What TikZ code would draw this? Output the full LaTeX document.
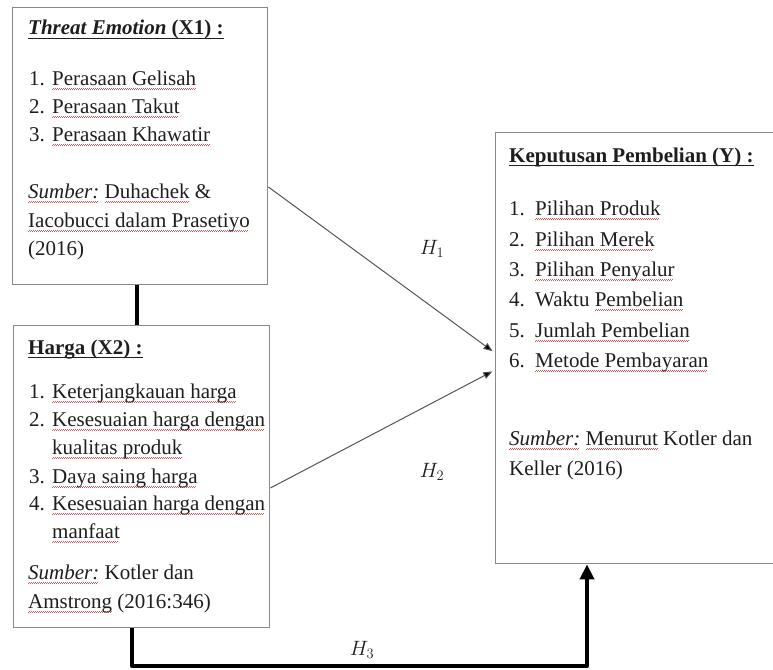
\documentclass[tikz,border=0pt]{standalone}
\usepackage{fontspec}
\setmainfont{Liberation Serif}
\usetikzlibrary{arrows.meta}
\definecolor{boxgray}{HTML}{8A8A8A}
\definecolor{ink}{HTML}{1E1E1E}
\definecolor{arrgray}{HTML}{555555}
\definecolor{wavered}{HTML}{D85A5A}
\newsavebox\mywbox
\newcommand\rw[1]{\sbox\mywbox{#1}\rlap{\color{wavered}\leaders\hbox{\rule[-4.6pt]{1pt}{0.7pt}\rule[-3.9pt]{1pt}{0.7pt}}\hskip\wd\mywbox}\usebox\mywbox}
\newcommand\myul[1]{\sbox\mywbox{#1}\rlap{\color{ink}\rule[-4.2pt]{\wd\mywbox}{1.2pt}}\usebox\mywbox}
\begin{document}
\begin{tikzpicture}[x=1pt,y=-1pt,
  box/.style={draw=boxgray, line width=1.4pt, anchor=north west, inner sep=0pt},
  txt/.style={anchor=base west, inner sep=0pt, font=\fontsize{21}{25}\selectfont, text=ink},
  hlab/.style={inner sep=0pt, font=\fontsize{20}{24}\selectfont, text=ink},
  thinarr/.style={draw=arrgray, line width=1pt, -{Triangle[length=9pt,width=7pt,fill=black]}, shorten >=3pt},
  thickline/.style={draw=black, line width=4.2pt},
  thickarr/.style={draw=black, line width=4.2pt, line join=round, -{Triangle[length=15pt,width=14pt]}}
]
\useasboundingbox (0,0) rectangle (773,669);
\fill[white] (0,0) rectangle (773,669);

% boxes
\node[box, minimum width=255pt, minimum height=277pt] (x1) at (12,7) {};
\node[box, minimum width=256pt, minimum height=302pt] (x2) at (13,325) {};
\node[box, minimum width=320pt, minimum height=431pt] (y) at (495,132) {};

% X1 texts
\node[txt] (x1t) at (28,35) {\myul{\textbf{\textit{Threat Emotion}} \textbf{(X1) :}}};
\node[txt] (x1n1) at (29,85) {1.};
\node[txt] (x1i1) at (52,85) {\rw{Perasaan Gelisah}};
\node[txt] (x1n2) at (29,113) {2.};
\node[txt] (x1i2) at (52,113) {\rw{Perasaan Takut}};
\node[txt] (x1n3) at (29,141) {3.};
\node[txt] (x1i3) at (52,141) {\rw{Perasaan Khawatir}};
\node[txt] (x1s1) at (28,198) {\rw{\textit{Sumber:}} \rw{Duhachek} \&};
\node[txt] (x1s2) at (28,227) {\rw{Iacobucci dalam Prasetiyo}};
\node[txt] (x1s3) at (28,255) {(2016)};

% X2 texts
\node[txt] (x2t) at (28,354) {\myul{\textbf{Harga (X2) :}}};
\node[txt] (x2n1) at (29,398) {1.};
\node[txt] (x2i1) at (52,398) {\rw{Keterjangkauan harga}};
\node[txt] (x2n2) at (29,426) {2.};
\node[txt] (x2i2) at (52,426) {\rw{Kesesuaian harga dengan}};
\node[txt] (x2i2b) at (52,454) {\rw{kualitas produk}};
\node[txt] (x2n3) at (29,483) {3.};
\node[txt] (x2i3) at (52,483) {\rw{Daya saing harga}};
\node[txt] (x2n4) at (29,510) {4.};
\node[txt] (x2i4) at (52,510) {\rw{Kesesuaian harga dengan}};
\node[txt] (x2i4b) at (52,538) {\rw{manfaat}};
\node[txt] (x2s1) at (28,579) {\rw{\textit{Sumber:}} Kotler dan};
\node[txt] (x2s2) at (28,608) {\rw{Amstrong} (2016:346)};

% Y texts
\node[txt] (yt) at (509,162) {\myul{\textbf{Keputusan Pembelian (Y) :}}};
\node[txt] (yn1) at (509,215) {1.};
\node[txt] (yi1) at (535,215) {\rw{Pilihan Produk}};
\node[txt] (yn2) at (509,246) {2.};
\node[txt] (yi2) at (535,246) {\rw{Pilihan Merek}};
\node[txt] (yn3) at (509,276) {3.};
\node[txt] (yi3) at (535,276) {\rw{Pilihan Penyalur}};
\node[txt] (yn4) at (509,306) {4.};
\node[txt] (yi4) at (535,306) {Waktu \rw{Pembelian}};
\node[txt] (yn5) at (509,337) {5.};
\node[txt] (yi5) at (535,337) {\rw{Jumlah Pembelian}};
\node[txt] (yn6) at (509,367) {6.};
\node[txt] (yi6) at (535,367) {\rw{Metode Pembayaran}};
\node[txt] (ys1) at (509,445) {\rw{\textit{Sumber:}} \rw{Menurut} Kotler dan};
\node[txt] (ys2) at (509,475) {Keller (2016)};

% helper coordinates
\coordinate (r187) at (0,187);
\coordinate (r353) at (0,353);
\coordinate (r488) at (0,488);
\coordinate (r370) at (0,370);
\coordinate (c137) at (137,0);
\coordinate (c132) at (132,0);
\coordinate (c587) at (587,0);
\coordinate (bot) at (587,666);

% connectors
\draw[thinarr] (x1.east |- r187) -- (y.west |- r353);
\draw[thinarr] (x2.east |- r488) -- (y.west |- r370);
\draw[thickline] (x1.south -| c137) -- (x2.north -| c137);
\draw[thickarr] (x2.south -| c132) |- (bot) -- (y.south -| c587);

% labels
\node[hlab] (h1) at (432,249) {$H_1$};
\node[hlab] (h2) at (432,472) {$H_2$};
\node[hlab] (h3) at (362,650) {$H_3$};
\end{tikzpicture}
\end{document}
